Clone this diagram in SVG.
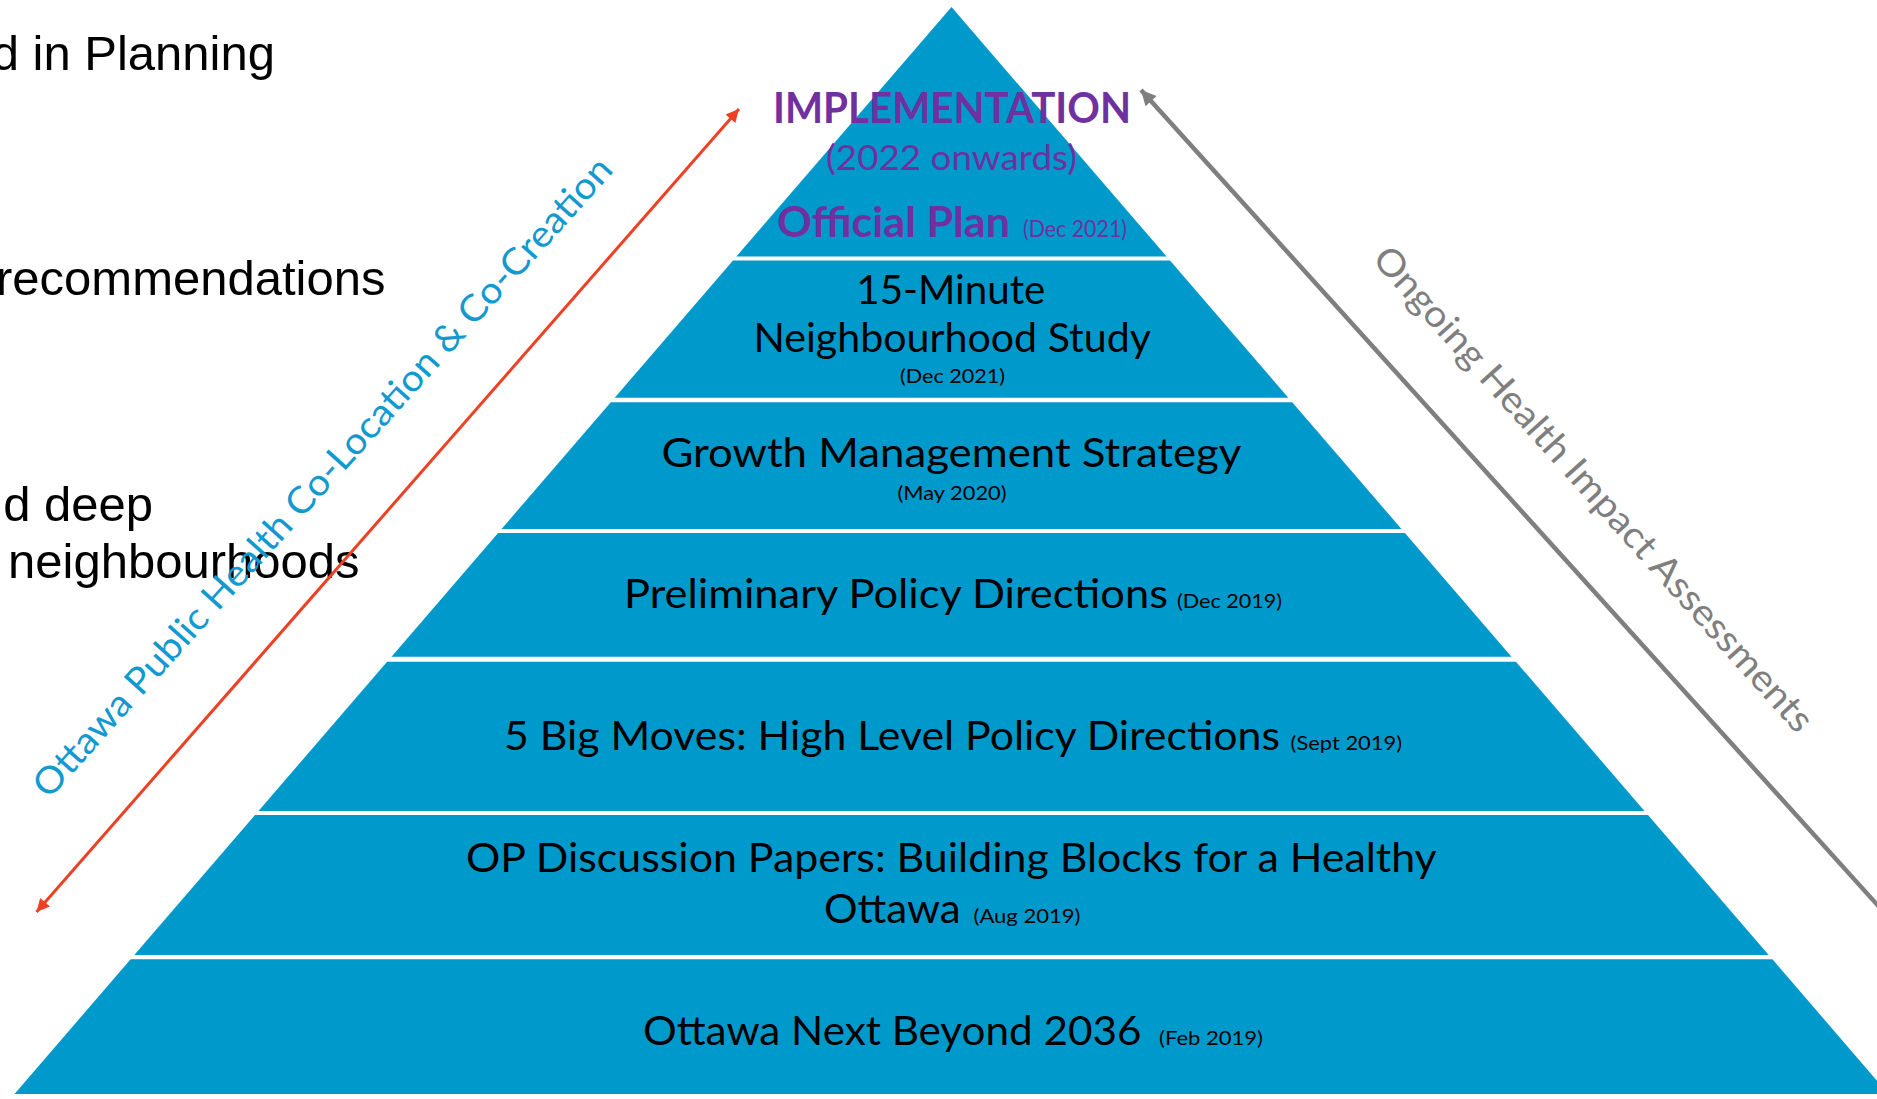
<svg xmlns="http://www.w3.org/2000/svg" width="1877" height="1099" viewBox="0 0 1877 1099">
<style>
.band{fill:#0099CC}
.t{font-family:Lato,"Open Sans","Liberation Sans",sans-serif;fill:#000}
.main{font-size:40px}
.date{font-size:20px}
.pur{fill:#7030A0}
.side{font-family:"Liberation Sans",Arial,sans-serif;font-size:49px;fill:#000}
.rot{font-family:Lato,"Open Sans","Liberation Sans",sans-serif;font-size:37px}
</style>
<defs>
<marker id="redHead" viewBox="0 0 10 10" refX="10" refY="5" markerWidth="16" markerHeight="13" markerUnits="userSpaceOnUse" orient="auto-start-reverse">
<path d="M0,0 L10,5 L0,10 z" fill="#EE4123"/>
</marker>
<marker id="grayHead" viewBox="0 0 10 10" refX="10" refY="5" markerWidth="18" markerHeight="15" markerUnits="userSpaceOnUse" orient="auto-start-reverse">
<path d="M0,0 L10,5 L0,10 z" fill="#7F7F7F"/>
</marker>
</defs>
<rect x="0" y="0" width="1877" height="1099" fill="#ffffff"/>

<g id="side-notes">
<text class="side" x="275" y="70" text-anchor="end">d in Planning</text>
<text class="side" x="-4" y="295">recommendations</text>
<text class="side" x="153" y="521" text-anchor="end">d deep</text>
<text class="side" x="8" y="578">neighbourhoods</text>
</g>

<g id="level-implementation">
<polygon class="band" points="951.5,7 1166.6,256.5 736.4,256.5"/>
<text class="t pur" x="773" y="123.3" font-size="42" font-weight="bold" textLength="358" lengthAdjust="spacingAndGlyphs">IMPLEMENTATION</text>
<text class="t pur" x="826" y="170" font-size="35" textLength="251" lengthAdjust="spacingAndGlyphs">(2022 onwards)</text>
<text class="t pur" x="777" y="236.7" font-size="42" font-weight="bold" textLength="233" lengthAdjust="spacingAndGlyphs">Official Plan</text>
<text class="t pur" x="1023" y="237" font-size="23" textLength="104" lengthAdjust="spacingAndGlyphs">(Dec 2021)</text>
</g>

<g id="level-15min">
<polygon class="band" points="733.0,260.5 1170.0,260.5 1288.3,397.7 614.7,397.7"/>
<text class="t main" x="856.3" y="304.3" textLength="189" lengthAdjust="spacingAndGlyphs">15-Minute</text>
<text class="t main" x="753.5" y="351.7" textLength="397.5" lengthAdjust="spacingAndGlyphs">Neighbourhood Study</text>
<text class="t date" x="900" y="383.3" textLength="105" lengthAdjust="spacingAndGlyphs">(Dec 2021)</text>
</g>

<g id="level-growth">
<polygon class="band" points="610.8,402.3 1292.2,402.3 1401.5,529 501.5,529"/>
<text class="t main" x="661.4" y="466.7" textLength="580" lengthAdjust="spacingAndGlyphs">Growth Management Strategy</text>
<text class="t date" x="897.5" y="500" textLength="109" lengthAdjust="spacingAndGlyphs">(May 2020)</text>
</g>

<g id="level-preliminary">
<polygon class="band" points="498.1,533 1404.9,533 1511.5,656.7 391.5,656.7"/>
<text class="t main" x="624" y="608.3" textLength="544" lengthAdjust="spacingAndGlyphs">Preliminary Policy Directions</text>
<text class="t date" x="1177" y="608.3" textLength="105" lengthAdjust="spacingAndGlyphs">(Dec 2019)</text>
</g>

<g id="level-bigmoves">
<polygon class="band" points="387.1,661.7 1515.9,661.7 1644.5,811 258.5,811"/>
<text class="t main" x="504" y="750" textLength="776" lengthAdjust="spacingAndGlyphs">5 Big Moves: High Level Policy Directions</text>
<text class="t date" x="1290.6" y="750" textLength="111.5" lengthAdjust="spacingAndGlyphs">(Sept 2019)</text>
</g>

<g id="level-discussion">
<polygon class="band" points="255.0,815 1648.0,815 1768.7,955 134.3,955"/>
<text class="t main" x="466" y="871.7" textLength="970.7" lengthAdjust="spacingAndGlyphs">OP Discussion Papers: Building Blocks for a Healthy</text>
<text class="t main" x="824" y="923.3" textLength="136.6" lengthAdjust="spacingAndGlyphs">Ottawa</text>
<text class="t date" x="973.5" y="923" textLength="107" lengthAdjust="spacingAndGlyphs">(Aug 2019)</text>
</g>

<g id="level-ottawanext">
<polygon class="band" points="130.6,959.3 1772.4,959.3 1888.5,1094 14.5,1094"/>
<text class="t main" x="643" y="1045" textLength="498.4" lengthAdjust="spacingAndGlyphs">Ottawa Next Beyond 2036</text>
<text class="t date" x="1159" y="1045" textLength="104" lengthAdjust="spacingAndGlyphs">(Feb 2019)</text>
</g>

<g id="connectors">
<line x1="36.5" y1="912" x2="739" y2="109" stroke="#EE4123" stroke-width="3" marker-start="url(#redHead)" marker-end="url(#redHead)"/>
<line x1="1910" y1="941" x2="1141" y2="90" stroke="#7F7F7F" stroke-width="4.5" marker-end="url(#grayHead)"/>
</g>

<g id="label-public-health">
<text class="rot" fill="#1199D0" transform="translate(49,800) rotate(-48.04)" x="0" y="0" textLength="846" lengthAdjust="spacingAndGlyphs">Ottawa Public Health Co-Location &amp; Co-Creation</text>
</g>
<g id="label-hia">
<text class="rot" fill="#7F7F7F" transform="translate(1371,260) rotate(48.08)" x="0" y="0" textLength="638" lengthAdjust="spacingAndGlyphs">Ongoing Health Impact Assessments</text>
</g>
</svg>
